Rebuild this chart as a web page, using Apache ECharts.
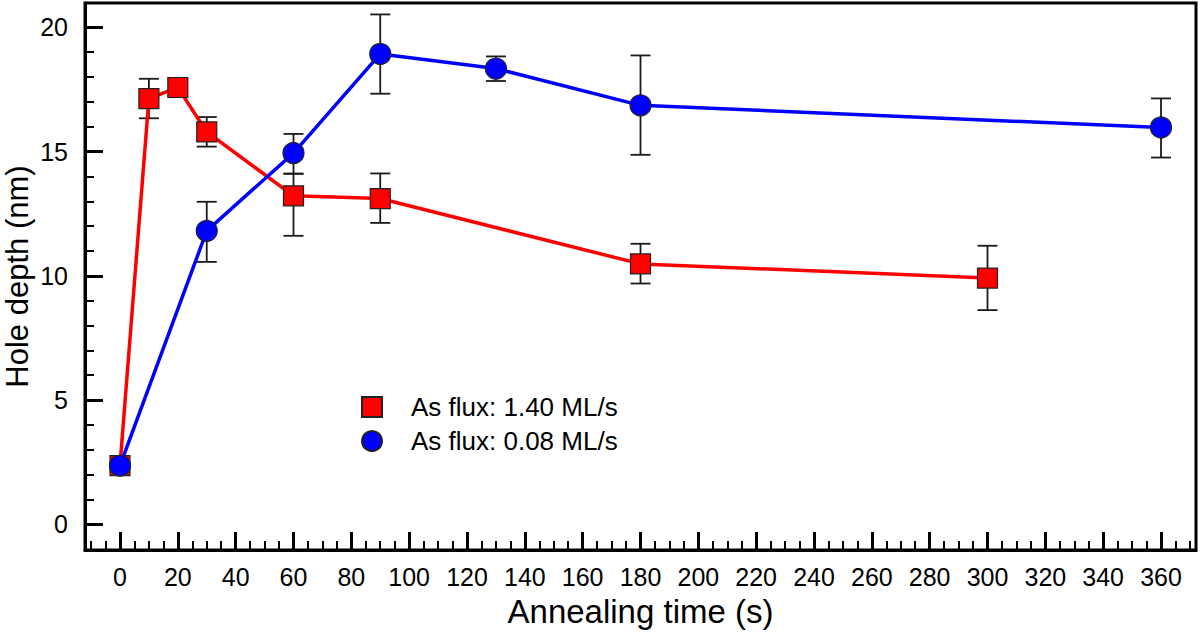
<!DOCTYPE html>
<html>
<head>
<meta charset="utf-8">
<script src="https://cdn.jsdelivr.net/npm/echarts@6/dist/echarts.min.js"></script>
<style>
html,body{margin:0;padding:0;background:#fff;}
#c{width:1200px;height:636px;}
</style>
</head>
<body>
<div id="c"></div>
<script>
// ---- data ----
var redName = 'As flux: 1.40 ML/s';
var blueName = 'As flux: 0.08 ML/s';
var redTime = [0, 10, 20, 30, 60, 90, 180, 300];
var redDepth = [2.36, 17.13, 17.58, 15.79, 13.22, 13.11, 10.48, 9.91];
var redErrLow = [null, 16.34, null, 15.20, 11.61, 12.13, 9.69, 8.62];
var redErrHigh = [null, 17.93, null, 16.39, 14.11, 14.12, 11.29, 11.21];
var blueTime = [0, 30, 60, 90, 130, 180, 360];
var blueDepth = [2.36, 11.81, 14.94, 18.93, 18.34, 16.86, 15.97];
var blueErrLow = [null, 10.56, 14.11, 17.33, 17.84, 14.87, 14.76];
var blueErrHigh = [null, 12.98, 15.71, 20.52, 18.83, 18.87, 17.14];
var xTickValues = [0, 20, 40, 60, 80, 100, 120, 140, 160, 180, 200, 220, 240, 260, 280, 300, 320, 340, 360];
var xMinorTicks = [-10, -5, 5, 10, 15, 25, 30, 35, 45, 50, 55, 65, 70, 75, 85, 90, 95, 105, 110, 115, 125, 130, 135, 145, 150, 155, 165, 170, 175, 185, 190, 195, 205, 210, 215, 225, 230, 235, 245, 250, 255, 265, 270, 275, 285, 290, 295, 305, 310, 315, 325, 330, 335, 345, 350, 355, 365, 370];
var yTickValues = [0, 5, 10, 15, 20];
var yMinorTicks = [1, 2, 3, 4, 6, 7, 8, 9, 11, 12, 13, 14, 16, 17, 18, 19];
var xTitle = 'Annealing time (s)';
var yTitle = 'Hole depth (nm)';

// ---- build ----
function pts(xs, ys) { return xs.map(function (x, i) { return [x, ys[i]]; }); }
function errs(xs, lo, hi) {
  var out = [];
  xs.forEach(function (x, i) { if (lo[i] != null) out.push([x, lo[i], hi[i]]); });
  return out;
}
var FONT = 'Liberation Sans, Arial, Helvetica, sans-serif';
function errRender(params, api) {
  var x = api.value(0);
  var lo = api.coord([x, api.value(1)]);
  var hi = api.coord([x, api.value(2)]);
  var w = 10;
  var st = { stroke: '#1a1a1a', lineWidth: 1.8 };
  return {
    type: 'group',
    children: [
      { type: 'line', shape: { x1: lo[0], y1: lo[1], x2: hi[0], y2: hi[1] }, style: st },
      { type: 'line', shape: { x1: lo[0] - w, y1: lo[1], x2: lo[0] + w, y2: lo[1] }, style: st },
      { type: 'line', shape: { x1: hi[0] - w, y1: hi[1], x2: hi[0] + w, y2: hi[1] }, style: st }
    ]
  };
}
var XMIN = -12.1, XMAX = 372.1, YMIN = -1.035, YMAX = 20.98;
var chart = echarts.init(document.getElementById('c'), null, { renderer: 'svg' });
chart.setOption({
  animation: false,
  backgroundColor: '#fff',
  grid: { left: 85, right: 4, top: 3, bottom: 86, show: true, borderColor: '#000', borderWidth: 3, containLabel: false, outerBoundsMode: 'none' },
  legend: {
    orient: 'vertical', left: 356, top: 389, itemWidth: 20, itemHeight: 20, itemGap: 8,
    selectedMode: false,
    textStyle: { fontFamily: FONT, fontSize: 26, color: '#000', padding: [0, 0, 0, 24] },
    data: [{ name: redName, icon: 'rect' }, { name: blueName, icon: 'circle' }]
  },
  xAxis: [{
    type: 'value', min: XMIN, max: XMAX, position: 'bottom',
    axisLine: { show: true, onZero: false, lineStyle: { color: '#000', width: 3 } },
    axisTick: { show: true, inside: true, length: 18, customValues: xTickValues, lineStyle: { color: '#000', width: 3 } },
    axisLabel: { show: true, customValues: xTickValues, fontFamily: FONT, fontSize: 25, color: '#000', margin: 14 },
    splitLine: { show: false },
    name: xTitle, nameLocation: 'middle', nameGap: 45, nameMoveOverlap: false,
    nameTextStyle: { fontFamily: FONT, fontSize: 33, color: '#000' }
  }, {
    type: 'value', min: XMIN, max: XMAX, position: 'bottom',
    axisLine: { show: false, onZero: false },
    axisTick: { show: true, inside: true, length: 9, customValues: xMinorTicks, lineStyle: { color: '#000', width: 2 } },
    axisLabel: { show: false },
    splitLine: { show: false }
  }],
  yAxis: [{
    type: 'value', min: YMIN, max: YMAX, position: 'left',
    axisLine: { show: true, onZero: false, lineStyle: { color: '#000', width: 3 } },
    axisTick: { show: true, inside: true, length: 18, customValues: yTickValues, lineStyle: { color: '#000', width: 3 } },
    axisLabel: { show: true, customValues: yTickValues, fontFamily: FONT, fontSize: 25, color: '#000', margin: 17 },
    splitLine: { show: false },
    name: yTitle, nameLocation: 'middle', nameGap: 53, nameMoveOverlap: false,
    nameTextStyle: { fontFamily: FONT, fontSize: 31, lineHeight: 30, color: '#000' }
  }, {
    type: 'value', min: YMIN, max: YMAX, position: 'left',
    axisLine: { show: false, onZero: false },
    axisTick: { show: true, inside: true, length: 9, customValues: yMinorTicks, lineStyle: { color: '#000', width: 2 } },
    axisLabel: { show: false },
    splitLine: { show: false }
  }],
  series: [{
    type: 'custom', name: 'redErr', renderItem: errRender, data: errs(redTime, redErrLow, redErrHigh), z: 1, silent: true
  }, {
    type: 'custom', name: 'blueErr', renderItem: errRender, data: errs(blueTime, blueErrLow, blueErrHigh), z: 1, silent: true
  }, {
    type: 'line', name: redName, data: pts(redTime, redDepth), z: 3,
    symbol: 'rect', symbolSize: 20, showAllSymbol: true,
    lineStyle: { color: '#ff0000', width: 3.5 },
    itemStyle: { color: '#ff0000', borderColor: '#222', borderWidth: 1.2 }
  }, {
    type: 'line', name: blueName, data: pts(blueTime, blueDepth), z: 4,
    symbol: 'circle', symbolSize: 21, showAllSymbol: true,
    lineStyle: { color: '#0000ff', width: 3.5 },
    itemStyle: { color: '#0000ff', borderColor: '#222', borderWidth: 1.2 }
  }]
});
</script>
</body>
</html>
